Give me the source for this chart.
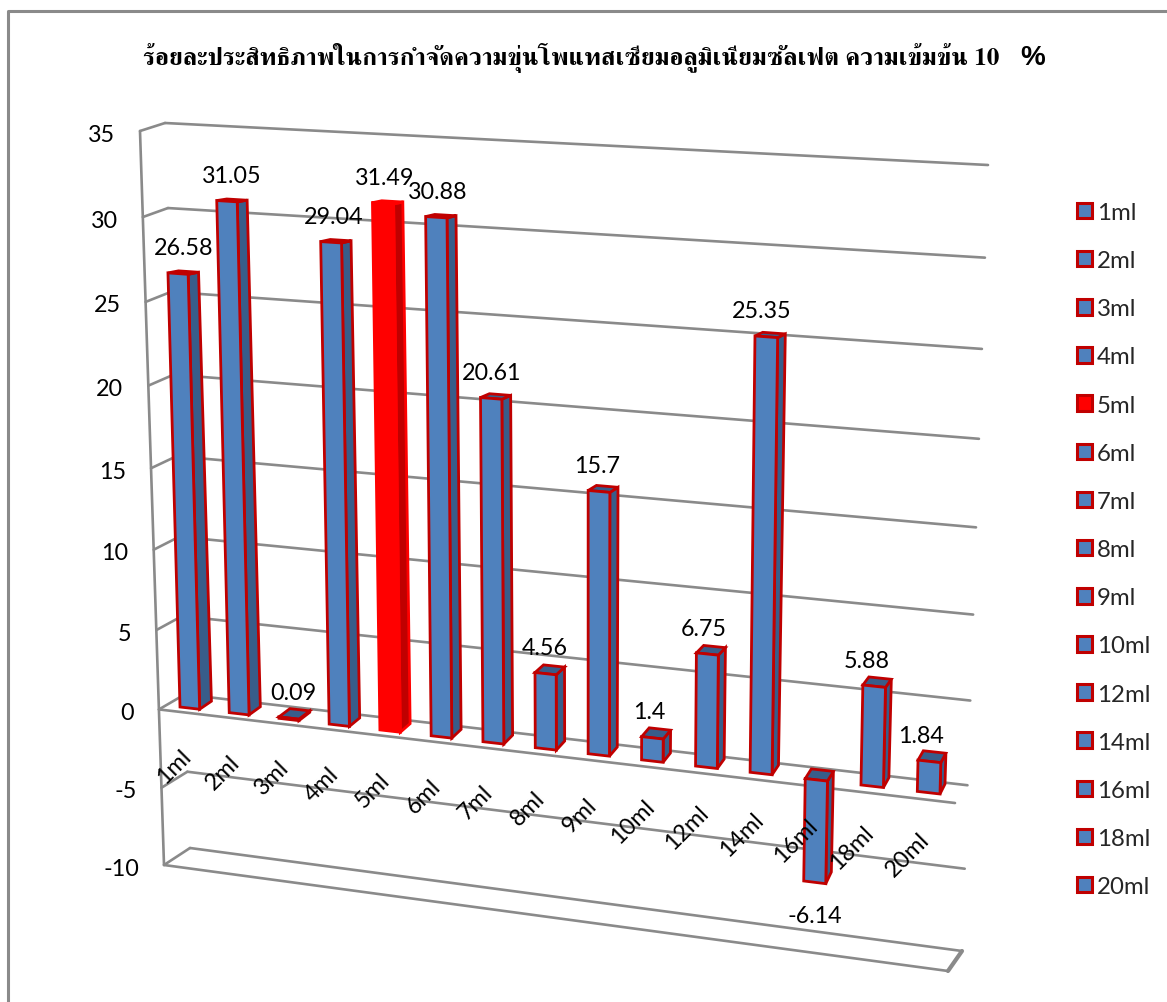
import numpy as np, pandas as pd, matplotlib
matplotlib.use("Agg")
import matplotlib.pyplot as plt, seaborn as sns
from matplotlib.transforms import Transform
from matplotlib.patches import Patch

categories = ["1ml","2ml","3ml","4ml","5ml","6ml","7ml","8ml","9ml","10ml","12ml","14ml","16ml","18ml","20ml"]
values = [26.58,31.05,0.09,29.04,31.49,30.88,20.61,4.56,15.7,1.4,6.75,25.35,-6.14,5.88,1.84]
value_ticks = [35,30,25,20,15,10,5,0,-5,-10]
title = "ร้อยละประสิทธิภาพในการกำจัดความขุ่นโพแทสเซียมอลูมิเนียมซัลเฟต ความเข้มข้น 10"

BLUE, BLUE_D, EDGE, RED, GRID = "#4F81BD", "#385D8A", "#C00000", "#FF0000", "#8A8A8A"
FS = 16.8

class Homography(Transform):
    input_dims = output_dims = 2
    def __init__(self, src, dst):
        super().__init__()
        A, b = [], []
        for (x, y), (X, Y) in zip(src, dst):
            A.append([x, y, 1, 0, 0, 0, -x*X, -y*X]); b.append(X)
            A.append([0, 0, 0, x, y, 1, -x*Y, -y*Y]); b.append(Y)
        self.h = np.append(np.linalg.solve(np.array(A, float), np.array(b, float)), 1).reshape(3, 3)
    def transform_non_affine(self, xy):
        xy = np.asarray(xy, float)
        p = np.c_[xy, np.ones(len(xy))] @ self.h.T
        return p[:, :2] / p[:, 2:]

sns.set_theme(style="white")
plt.rcParams["font.family"] = ["Lato", "DejaVu Sans"]
W, H_ = 1167, 1003
fig = plt.figure(figsize=(W/100, H_/100), dpi=100)

def pixel_axes(z):
    a = fig.add_axes([0, 0, 1, 1], zorder=z)
    a.set_xlim(0, W); a.set_ylim(H_, 0); a.set_axis_off()
    return a

wall = pixel_axes(0)
top = pixel_axes(2)
bars_ax = fig.add_axes([0, 0, 1, 1], zorder=1)

B0, B1 = -0.2, 14.2
corners = [(B0, 0), (B1, 0), (B0, 35), (B1, 35)]
front = Homography(corners, [(180, 708), (940, 795), (164, 131), (955, 175)])
back = Homography(corners, [(192, 700), (945, 785), (174, 130), (963, 172)])
backwall = Homography([(0, 35), (1, 35), (0, -10), (1, -10)], [(165, 124), (988, 166), (190, 849), (962, 952)])

def frontleft(v):
    t = (35 - v) / 45
    p = backwall.transform(np.array([[0, v]], float))[0]
    return p + np.array([-25 - t, 8 + 9*t])

gl = dict(color=GRID, lw=1.9, solid_capstyle="round")
for v in value_ticks:
    p = backwall.transform(np.array([[0, v], [1, v]], float))
    wall.plot(p[:, 0], p[:, 1], **gl)
    q = frontleft(v)
    wall.plot([q[0], p[0, 0]], [q[1], p[0, 1]], **gl)
    top.text(q[0] - 25, q[1] + 3, str(v), ha="right", va="center", fontsize=FS, color="black")
a, b = frontleft(35), frontleft(-10)
wall.plot([a[0], b[0]], [a[1], b[1]], **gl)
z0l, z0r = frontleft(0), np.array([955, 804])
wall.plot([z0l[0], z0r[0]], [z0l[1], z0r[1]], **gl)
fl, fr = frontleft(-10), np.array([948, 972])
br = backwall.transform(np.array([[1, -10]], float))[0]
wall.plot([fl[0], fr[0]], [fl[1], fr[1]], **gl)
wall.plot([fr[0], br[0]], [fr[1], br[1]], color=GRID, lw=3)

df = pd.DataFrame({"category": categories, "value": values})
colors = {c: (RED if c == "5ml" else BLUE) for c in categories}
sns.barplot(data=df, x="category", y="value", hue="category", palette=colors, order=categories,
            width=0.4, saturation=1, legend=False, ax=bars_ax)
bars_ax.set_axis_off()
bars_ax.patch.set_alpha(0)
for patch, cat in zip(bars_ax.patches, categories):
    patch.set_transform(front + top.transData)
    patch.set_clip_on(False)
    patch.set_edgecolor(RED if cat == "5ml" else EDGE)
    patch.set_linewidth(2)

for i, (cat, v) in enumerate(zip(categories, values)):
    hi, lo = max(v, 0), min(v, 0)
    l, r = i - 0.2, i + 0.2
    side = np.r_[front.transform(np.array([[r, hi], [r, lo]])), back.transform(np.array([[r, lo], [r, hi]]))]
    cap = np.r_[front.transform(np.array([[l, hi], [r, hi]])), back.transform(np.array([[r, hi], [l, hi]]))]
    fc = "#C00000" if cat == "5ml" else BLUE_D
    ec = RED if cat == "5ml" else EDGE
    wall.fill(side[:, 0], side[:, 1], fc=fc, ec=ec, lw=2, zorder=5)
    wall.fill(cap[:, 0], cap[:, 1], fc=fc, ec=ec, lw=2, zorder=5)

    tr = front + top.transData
    dx = 6 - 1.0*i
    offset = (dx, 26) if v >= 0 else (0, -33)
    top.annotate(f"{v:g}", xy=(i, v), xycoords=tr, xytext=offset, textcoords="offset pixels",
                 ha="center", va="center", fontsize=FS, color="black")
    top.annotate(cat, xy=(l, -3.7), xycoords=tr, xytext=(-8, 0), textcoords="offset pixels",
                 ha="center", va="center", rotation=45, fontsize=FS, color="black")

handles = [Patch(fc=RED if c == "5ml" else BLUE, ec=EDGE, lw=2.2) for c in categories]
top.legend(handles, categories, loc="upper left", bbox_to_anchor=(1077, 203), bbox_transform=top.transData,
           frameon=False, fontsize=FS + 0.5, handlelength=0.62, handleheight=0.62, handletextpad=0.2,
           labelspacing=1.13, borderpad=0, borderaxespad=0)

wall.plot([7.5, 7.5, W + 5], [H_ + 5, 11.5, 11.5], color=GRID, lw=2.2, clip_on=True)

top.text(143, 58, title, ha="left", va="center", fontsize=18, fontweight="bold", family=["FreeSerif"], color="black")
top.text(1045, 58, "%", ha="right", va="center", fontsize=20, fontweight="bold", family="Liberation Sans", color="black")
fig.savefig("out.png", dpi=100, facecolor="white")
